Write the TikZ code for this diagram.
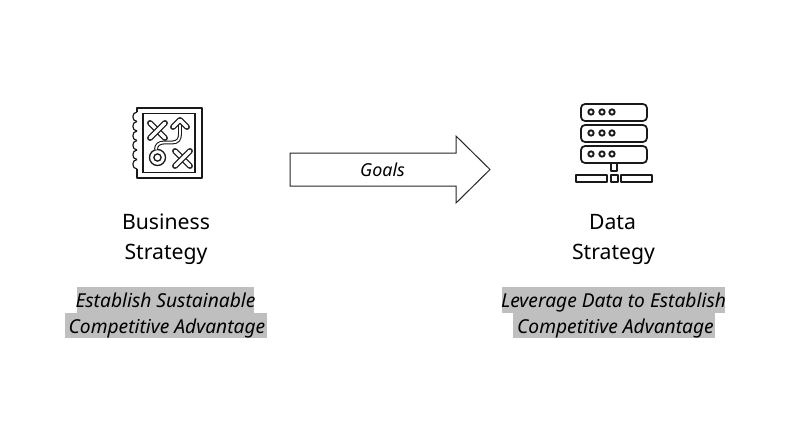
\documentclass[tikz,border=0pt]{standalone}
\usepackage{fontspec}
\setmainfont{Noto Sans}
\definecolor{hl}{gray}{0.75}
\definecolor{ink}{gray}{0.1}
\tikzset{
  x=0.75pt,y=-0.75pt,
  title/.style={text=black,font=\fontsize{15.9}{15.9}\selectfont,inner sep=0pt,anchor=base},
  slogan/.style={text=black,font=\fontsize{14.4}{14.4}\itshape\selectfont,inner sep=0pt,anchor=base},
  band/.style={fill=hl,draw=none},
  iconline/.style={draw=ink,line width=0.9pt,line join=round},
  dbl/.style={draw=ink,line width=1pt,double=white,double distance=2.4pt,line cap=round,line join=round},
  dbltail/.style={draw=ink,line width=0.8pt,double=white,double distance=1.3pt,line join=round},
  dotmark/.style={circle,draw=ink,line width=1.4pt,fill=white,minimum size=4pt,inner sep=0pt},
}
\begin{document}
\begin{tikzpicture}
\useasboundingbox (0,0) rectangle (799,426);
\fill[white] (0,0) rectangle (799,426);
% highlight bands
\fill[band] (77,287) rectangle (254,313);
\fill[band] (65,313) rectangle (267,338);
\fill[band] (502,287) rectangle (725,313);
\fill[band] (513,313) rectangle (715,338);
% arrow
\draw[draw=black!85,line width=0.75pt,fill=white,line join=miter]
  (290,153) -- (456,153) -- (456,136) -- (490,169.5) -- (456,203) -- (456,186) -- (290,186) -- cycle;
\node[font=\fontsize{13.4}{13.4}\itshape\selectfont,inner sep=0pt,anchor=base] (goals) at (382.5,176) {Goals};
% business icon
\draw[iconline] (137,112) -- (137,108) -- (202,108) -- (202,178) -- (137,178) -- (137,169);
\foreach \yy in {112,121.5,131,140.5,150,159.5}{
  \draw[iconline] (137,\yy) .. controls (131.5,\yy) and (131.5,\yy+9.5) .. (137,\yy+9.5);
}
\draw[draw=ink,line width=1.4pt] (143,113.5) rectangle (195,172.5);
% X top-left
\draw[dbl] (150,123) -- (165,138);
\draw[dbl] (165,123) -- (150,138);
% X bottom-right
\draw[dbl] (175,151) -- (190,166);
\draw[dbl] (190,151) -- (175,166);
% circle
\draw[draw=ink,line width=1pt] (157.5,157.5) circle (8);
\draw[draw=ink,line width=1pt] (157.5,157.5) circle (3.6);
% curved arrow
\draw[dbltail] (156,149.5) .. controls (156,145) and (159,142.5) .. (164,142.5)
  -- (172,142.5) .. controls (178,142.5) and (180,139) .. (180,134) -- (180,122);
\draw[dbl] (173,127) -- (180,120) -- (187,127);
% server icon
\foreach \t in {104,125,146}{
  \draw[iconline,line width=1.3pt,rounded corners=3pt,fill=white] (581,\t) rectangle (647,\t+17);
}
\foreach \yy in {112,133,154}{
  \foreach \xx in {591,602,612}{
    \node[dotmark] at (\xx,\yy) {};
  }
}
\draw[iconline,line width=1.1pt] (611,163) -- (611,171) -- (617,171) -- (617,163);
\draw[iconline,line width=1.1pt] (576,175) rectangle (607,182);
\draw[iconline,line width=1.1pt] (611,175) rectangle (618,182);
\draw[iconline,line width=1.1pt] (621,175) rectangle (652,182);
% text
\node[title] (bs1) at (166,229.5) {Business};
\node[title] (bs2) at (166,259.5) {Strategy};
\node[title] (ds1) at (612.5,229.5) {Data};
\node[title] (ds2) at (613.5,259.5) {Strategy};
\node[slogan] (l1) at (165.5,307) {Establish Sustainable};
\node[slogan] (l2) at (167,333) {Competitive Advantage};
\node[slogan] (r1) at (613.5,307) {Leverage Data to Establish};
\node[slogan] (r2) at (615.5,333) {Competitive Advantage};
\end{tikzpicture}
\end{document}
